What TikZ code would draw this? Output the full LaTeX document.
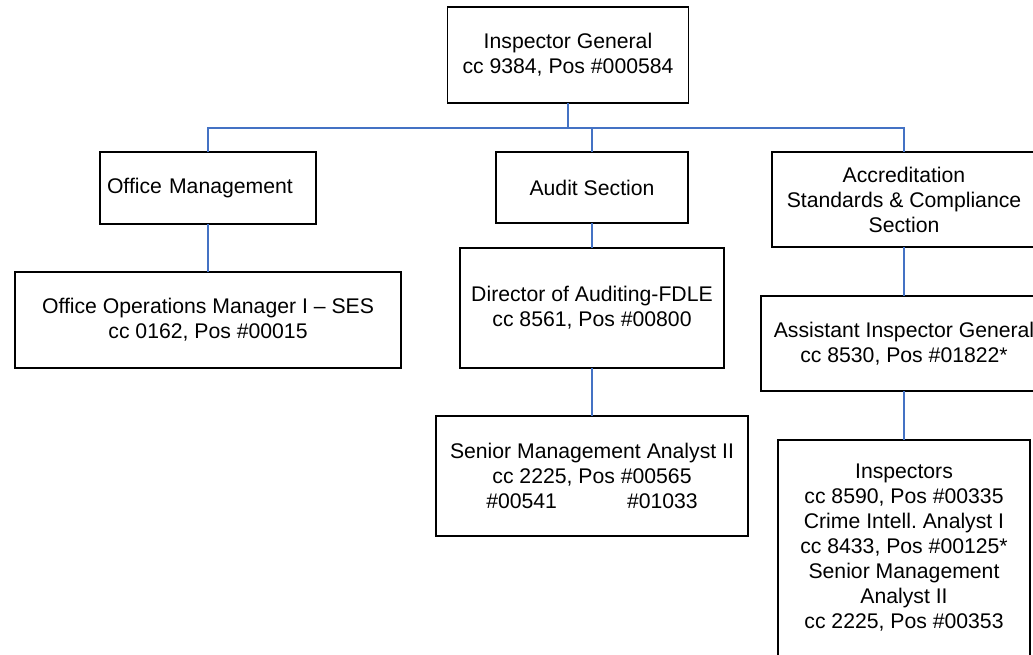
\documentclass[tikz,border=0pt]{standalone}
\usepackage{fontspec}
\setmainfont{Liberation Sans}
\definecolor{linkblue}{RGB}{68,114,196}
\begin{document}
\begin{tikzpicture}[x=1pt,y=-1pt,
  orgbox/.style={draw=black, line width=1.6pt, fill=white, inner sep=0pt,
    outer sep=0pt, align=center, font=\fontsize{21.2}{25}\selectfont},
  link/.style={draw=linkblue, line width=1.3pt}]
\path[use as bounding box, clip] (0,0) rectangle (1033,654);
\fill[white] (0,0) rectangle (1033,654);

% top level
\node[orgbox, minimum width=241pt, minimum height=96pt] (ig) at (568,55)
  {Inspector General\\cc 9384, Pos \#000584};

% sections (the right-hand column runs off the page edge)
\node[orgbox, minimum width=192pt, minimum height=71pt] (aud) at (592,187.5)
  {Audit Section};
\node[orgbox, minimum width=216pt, minimum height=72pt, text width=202pt, align=left] (om) at (208,188)
  {Office Management};
\node[orgbox, minimum width=264pt, minimum height=95pt] (acc) at (904,199.5)
  {Accreditation\\Standards \& Compliance\\Section};

% staff
\node[orgbox, minimum width=386pt, minimum height=96pt] (opm) at (208,320)
  {Office Operations Manager I – SES\\cc 0162, Pos \#00015};
\node[orgbox, minimum width=264pt, minimum height=120pt] (dir) at (592,308)
  {Director of Auditing-FDLE\\cc 8561, Pos \#00800};
\node[orgbox, minimum width=312pt, minimum height=120pt] (sma) at (592,476)
  {Senior Management Analyst II\\cc 2225, Pos \#00565\\\#00541\hspace{70pt}\#01033};
\node[orgbox, minimum width=286pt, minimum height=95pt] (aig) at (904,343.5)
  {Assistant Inspector General\\cc 8530, Pos \#01822*};
\node[orgbox, minimum width=252pt, minimum height=216pt] (insp) at (904,548)
  {Inspectors\\cc 8590, Pos \#00335\\Crime Intell.\ Analyst I\\cc 8433, Pos \#00125*\\Senior Management\\Analyst II\\cc 2225, Pos \#00353};

% connectors
\coordinate (bus) at (568,128);
\draw[link] (ig.south) -- (bus);
\draw[link] (om.north) |- (bus);
\draw[link] (aud.north) |- (bus);
\draw[link] (acc.north) |- (bus);
\draw[link] (om.south) -- (opm.north);
\draw[link] (aud.south) -- (dir.north);
\draw[link] (dir.south) -- (sma.north);
\draw[link] (acc.south) -- (aig.north);
\draw[link] (aig.south) -- (insp.north);
\end{tikzpicture}
\end{document}
